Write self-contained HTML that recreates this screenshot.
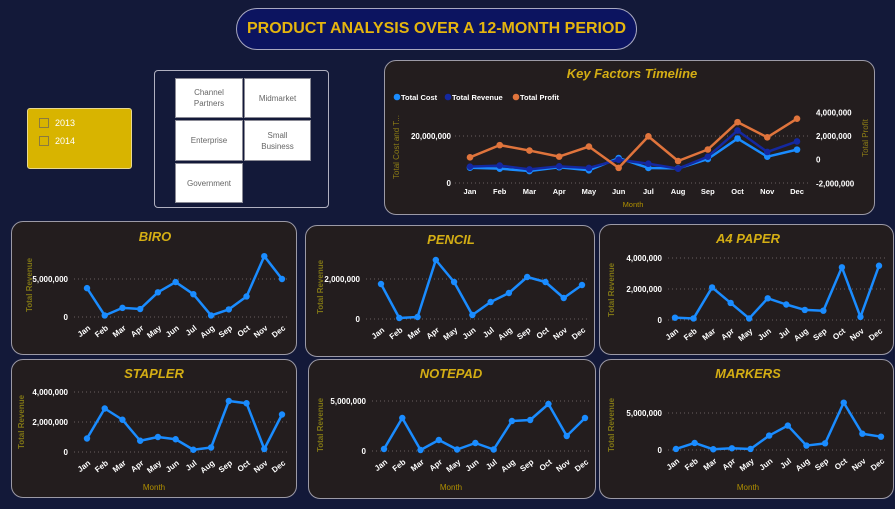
<!DOCTYPE html>
<html><head><meta charset="utf-8">
<style>
html,body{margin:0;padding:0;}
body{width:895px;height:509px;background:#131939;position:relative;overflow:hidden;font-family:"Liberation Sans",sans-serif;}
.abs{position:absolute;box-sizing:border-box;}
.panel{background:#231d1e;border:1px solid #9c9aa6;border-radius:12px;}
.tile{background:#fff;border:1px solid #8a8a95;font-size:8px;color:#666;display:flex;align-items:center;justify-content:center;text-align:center;line-height:11px;}
svg text{font-family:"Liberation Sans",sans-serif;}
</style></head>
<body>
<div class="abs" style="left:236px;top:8px;width:401px;height:42px;background:#0c1460;border:1px solid #a8a8c0;border-radius:21px;color:#e5b50e;font-weight:bold;font-size:16px;display:flex;align-items:center;justify-content:center;">PRODUCT ANALYSIS OVER A 12-MONTH PERIOD</div>

<div class="abs" style="left:27px;top:108px;width:105px;height:61px;background:#d8b400;border:1px solid #e8d890;border-radius:3px;">
  <div style="position:absolute;left:11px;top:9px;font-size:9px;color:#fff;display:flex;align-items:center;"><span style="display:inline-block;width:8px;height:8px;border:1px solid #8a7a40;margin-right:6px;"></span>2013</div>
  <div style="position:absolute;left:11px;top:27px;font-size:9px;color:#fff;display:flex;align-items:center;"><span style="display:inline-block;width:8px;height:8px;border:1px solid #8a7a40;margin-right:6px;"></span>2014</div>
</div>

<div class="abs" style="left:154px;top:70px;width:175px;height:138px;border:1px solid #b0b0c0;border-radius:4px;">
  <div class="abs tile" style="left:20px;top:7px;width:68px;height:40px;">Channel<br>Partners</div>
  <div class="abs tile" style="left:89px;top:7px;width:67px;height:40px;">Midmarket</div>
  <div class="abs tile" style="left:20px;top:49px;width:68px;height:41px;">Enterprise</div>
  <div class="abs tile" style="left:89px;top:49px;width:67px;height:41px;">Small<br>Business</div>
  <div class="abs tile" style="left:20px;top:92px;width:68px;height:40px;">Government</div>
</div>

<div class="abs panel" style="left:384px;top:60px;width:491px;height:155px;"></div>
<div class="abs panel" style="left:11px;top:221px;width:286px;height:134px;"></div>
<div class="abs panel" style="left:305px;top:225px;width:290px;height:132px;"></div>
<div class="abs panel" style="left:599px;top:224px;width:295px;height:131px;"></div>
<div class="abs panel" style="left:11px;top:359px;width:286px;height:139px;"></div>
<div class="abs panel" style="left:308px;top:359px;width:288px;height:140px;"></div>
<div class="abs panel" style="left:599px;top:359px;width:295px;height:140px;"></div>

<svg id="charts" class="abs" style="left:0;top:0" width="895" height="509"></svg>

<script>
const months = ["Jan","Feb","Mar","Apr","May","Jun","Jul","Aug","Sep","Oct","Nov","Dec"];
const costValues = [6.5,6.1,5.1,6.7,5.4,10.6,6.4,6.2,10.2,18.9,11.2,14.2];
const revenueValues = [6.95,7.4,5.8,7.1,6.4,9.9,8.2,6.1,11.2,22.3,13.2,17.7];
const profitValues = [0.2,1.23,0.77,0.26,1.11,-0.69,1.97,-0.11,0.86,3.17,1.89,3.46];
const leftTicks = [0,20];
const leftTickLabels = ["0","20,000,000"];
const rightTicks = [-2,0,2,4];
const rightTickLabels = ["-2,000,000","0","2,000,000","4,000,000"];

const biroValues = [3.8,0.2,1.2,1.05,3.25,4.6,3.0,0.2,1.0,2.7,8.0,5.0];
const pencilValues = [1.75,0.05,0.1,2.95,1.85,0.2,0.85,1.3,2.1,1.85,1.05,1.7];
const a4Values = [0.15,0.1,2.1,1.1,0.1,1.4,1.0,0.65,0.6,3.4,0.2,3.5];
const staplerValues = [0.9,2.9,2.15,0.75,1.0,0.85,0.15,0.3,3.4,3.25,0.2,2.5];
const notepadValues = [0.2,3.3,0.1,1.1,0.15,0.8,0.15,3.0,3.1,4.7,1.5,3.3];
const markersValues = [0.14,0.95,0.1,0.23,0.14,1.95,3.3,0.6,0.9,6.4,2.2,1.8];
const biroTicks = [0,5]; const biroTickLabels = ["0","5,000,000"];
const pencilTicks = [0,2]; const pencilTickLabels = ["0","2,000,000"];
const a4Ticks = [0,2,4]; const a4TickLabels = ["0","2,000,000","4,000,000"];
const staplerTicks = [0,2,4]; const staplerTickLabels = ["0","2,000,000","4,000,000"];
const notepadTicks = [0,5]; const notepadTickLabels = ["0","5,000,000"];
const markersTicks = [0,5]; const markersTickLabels = ["0","5,000,000"];

const NS = "http://www.w3.org/2000/svg";
const svg = document.getElementById("charts");
function mk(tag, attrs, parent, text){
  const e = document.createElementNS(NS, tag);
  for (const k in attrs) e.setAttribute(k, attrs[k]);
  if (text !== undefined) e.textContent = text;
  (parent || svg).appendChild(e);
  return e;
}
function linScale(d0,d1,r0,r1){ return v => r0 + (v-d0)*(r1-r0)/(d1-d0); }

function smallChart(name, title, values, ticks, tickLabels, box, showMonth){
  const g = mk("g", {});
  
  
  const x = linScale(0, months.length-1, box.xa, box.xb);
  const y = linScale(box.t0, box.t1, box.y0, box.y1);
  const t = mk("text", {x: box.tx, y: box.ty, "text-anchor":"middle", "font-size":"13", "font-weight":"bold", "font-style":"italic", fill:"#d4ae14"}, g, title);
  
  
  ticks.forEach((tv,i)=>{
    const gl = mk("line", {x1: box.gx0, x2: box.gx1, y1: y(tv), y2: y(tv), stroke:"#6a6060", "stroke-width":"1", "stroke-dasharray":"1,3"}, g);
    
    
    const tl = mk("text", {x: box.gx0-6, y: y(tv)+3, "text-anchor":"end", "font-size":"8", "font-weight":"bold", fill:"#fff"}, g, tickLabels[i]);
    
    
  });
  const yt = mk("text", {transform:`translate(${box.yax},${box.yay}) rotate(-90)`, "text-anchor":"middle", "font-size":"8", "font-weight":"bold", fill:"#7e7416"}, g, "Total Revenue");
  
  
  months.forEach((m,i)=>{
    const ml = mk("text", {transform:`translate(${x(i)+4},${box.y0+12}) rotate(-38)`, "text-anchor":"end", "font-size":"8", "font-weight":"bold", fill:"#fff"}, g, m);
    
    
  });
  if (showMonth){
    const mt = mk("text", {x: box.tx, y: box.my, "text-anchor":"middle", "font-size":"8", fill:"#b09000"}, g, "Month");
    
    
  }
  const pts = values.map((v,i)=>x(i)+","+y(v)).join(" ");
  const ln = mk("polyline", {points: pts, fill:"none", stroke:"#1a8cff", "stroke-width":"2.5", "stroke-linejoin":"round"}, g);
  
  
  values.forEach((v,i)=>{
    const c = mk("circle", {cx: x(i), cy: y(v), r: 3.2, fill:"#1a8cff"}, g);
    
    
  });
}

smallChart("biro","BIRO",biroValues,biroTicks,biroTickLabels,{xa:87,xb:282,y0:317,y1:279,t0:0,t1:5,gx0:74,gx1:290,tx:155,ty:241,yax:32,yay:285},false);
smallChart("pencil","PENCIL",pencilValues,pencilTicks,pencilTickLabels,{xa:381,xb:582,y0:319,y1:279,t0:0,t1:2,gx0:366,gx1:588,tx:451,ty:244,yax:323,yay:287},false);
smallChart("a4-paper","A4 PAPER",a4Values,a4Ticks,a4TickLabels,{xa:675,xb:879,y0:320,y1:289,t0:0,t1:2,gx0:668,gx1:887,tx:748,ty:243,yax:614,yay:290},false);
smallChart("stapler","STAPLER",staplerValues,staplerTicks,staplerTickLabels,{xa:87,xb:282,y0:452,y1:422,t0:0,t1:2,gx0:74,gx1:290,tx:154,ty:378,yax:24,yay:422,my:490},true);
smallChart("notepad","NOTEPAD",notepadValues,notepadTicks,notepadTickLabels,{xa:384,xb:585,y0:451,y1:401,t0:0,t1:5,gx0:372,gx1:590,tx:451,ty:378,yax:323,yay:425,my:490},true);
smallChart("markers","MARKERS",markersValues,markersTicks,markersTickLabels,{xa:676,xb:881,y0:450,y1:413,t0:0,t1:5,gx0:668,gx1:887,tx:748,ty:378,yax:614,yay:425,my:490},true);

// Key factors timeline
(function(){
  const g = mk("g", {});
  
  
  const x = linScale(0, 11, 470, 797);
  const yl = linScale(0, 20, 183, 136);
  const yr = linScale(0, 2, 159.7, 136);
  const t = mk("text", {x: 632, y: 78, "text-anchor":"middle", "font-size":"13", "font-weight":"bold", "font-style":"italic", fill:"#d4ae14"}, g, "Key Factors Timeline");
  
  
  const leg = [["Total Cost","#1a8cff",397],["Total Revenue","#1428a0",448],["Total Profit","#e0743c",516]];
  leg.forEach(l=>{
    const c = mk("circle", {cx:l[2], cy:97, r:3.3, fill:l[1]}, g);
    
    
    const lt = mk("text", {x:l[2]+4, y:100, "font-size":"7.5", "font-weight":"bold", fill:"#fff"}, g, l[0]);
    
    
  });
  leftTicks.forEach((tv,i)=>{
    const gl = mk("line", {x1:455, x2:808, y1:yl(tv), y2:yl(tv), stroke:"#6a6060", "stroke-dasharray":"1,3"}, g);
    
    
    const tl = mk("text", {x:451, y:yl(tv)+3, "text-anchor":"end", "font-size":"8", "font-weight":"bold", fill:"#fff"}, g, leftTickLabels[i]);
    
    
  });
  rightTicks.forEach((tv,i)=>{
    const tl = mk("text", {x:816, y:yr(tv)+3, "font-size":"8", "font-weight":"bold", fill:"#fff"}, g, rightTickLabels[i]);
    
    
  });
  const lt = mk("text", {transform:"translate(399,147) rotate(-90)", "text-anchor":"middle", "font-size":"8", fill:"#8e7e16"}, g, "Total Cost and T...");
  
  
  const rt = mk("text", {transform:"translate(868,138) rotate(-90)", "text-anchor":"middle", "font-size":"8", fill:"#8e7e16"}, g, "Total Profit");
  
  
  months.forEach((m,i)=>{
    const ml = mk("text", {x:x(i), y:194, "text-anchor":"middle", "font-size":"7.5", "font-weight":"bold", fill:"#fff"}, g, m);
    
    
  });
  const mt = mk("text", {x:633, y:207, "text-anchor":"middle", "font-size":"7.5", fill:"#b09000"}, g, "Month");
  
  
  const series = [["cost",costValues,yl,"#1a8cff"],["revenue",revenueValues,yl,"#1428a0"],["profit",profitValues,yr,"#e0743c"]];
  series.forEach(s=>{
    const pts = s[1].map((v,i)=>x(i)+","+s[2](v)).join(" ");
    const ln = mk("polyline", {points:pts, fill:"none", stroke:s[3], "stroke-width":"2.5", "stroke-linejoin":"round"}, g);
    
    
    s[1].forEach((v,i)=>{
      const c = mk("circle", {cx:x(i), cy:s[2](v), r:3.3, fill:s[3]}, g);
      
      
    });
  });
})();
</script>
</body></html>
